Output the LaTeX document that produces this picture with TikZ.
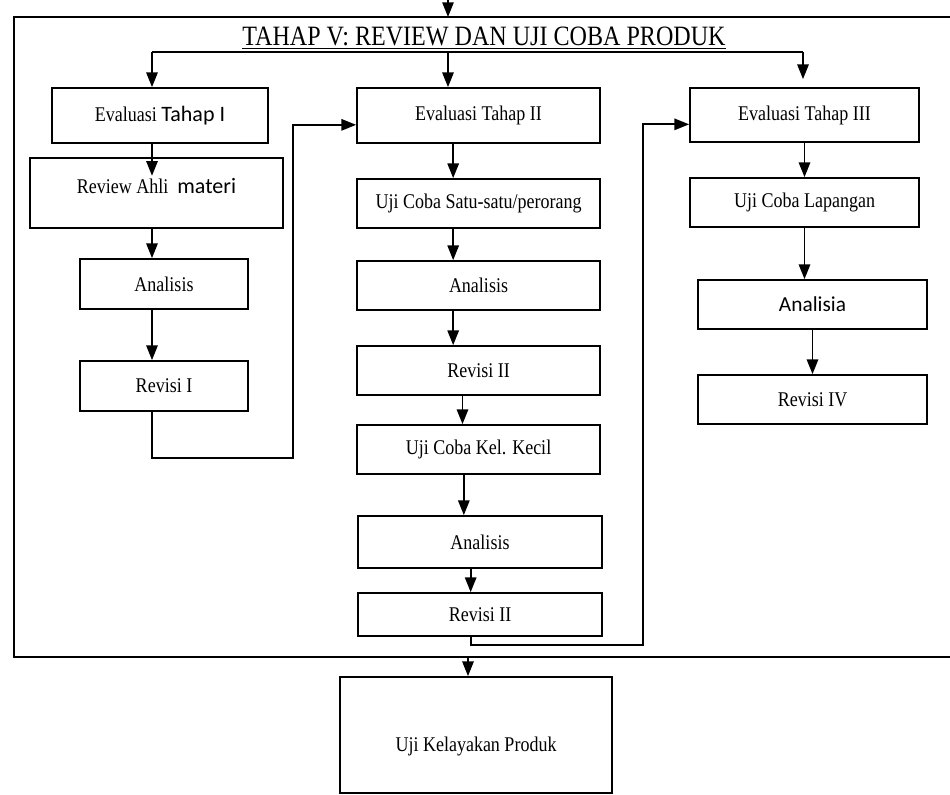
\documentclass[tikz,border=0pt]{standalone}
\usepackage{fontspec}
\setmainfont{Liberation Serif}[FakeStretch=0.86]
\newfontfamily\calib{Carlito}
\usetikzlibrary{arrows.meta}

\begin{document}
\begin{tikzpicture}[x=0.75pt,y=-0.75pt,
  box/.style={draw,line width=1.3pt,inner sep=0pt,font=\fontsize{15.7}{18}\selectfont},
  arr/.style={line width=1.3pt,-{Triangle[length=11pt,width=8.5pt]}},
  link/.style={line width=1.3pt},
  frame/.style={line width=1.8pt}]
\useasboundingbox (0,0) rectangle (950,794);
% outer frame of tahap V
\draw[frame] (950,17) -- (14,17) -- (14,657) -- (950,657);
\node[font=\fontsize{21}{24}\selectfont] (title) at (484,38) {\underline{TAHAP V: REVIEW DAN UJI COBA PRODUK}};
\coordinate (top) at (448,0);
\coordinate (d1) at (152,52);
\coordinate (d2) at (448,52);
\coordinate (d3) at (803,52);
\coordinate (l1) at (293,458);
\coordinate (r1) at (643,645);
\coordinate (fbot) at (468,657);

% kolom kiri
\node[box,minimum width=162pt,minimum height=41.25pt] (eval1) at (160,115.5) {Evaluasi {\calib\fontsize{16.5}{18}\selectfont Tahap I}};
\node[box,minimum width=189.75pt,minimum height=52.5pt,text height=10.7pt,text depth=10.3pt] (rev1) at (156.5,193) {Review Ahli \ {\calib\fontsize{16.5}{18}\selectfont materi}};
\node[box,minimum width=126pt,minimum height=37.5pt] (ana1) at (164,284) {Analisis};
\node[box,minimum width=126pt,minimum height=37.5pt] (revI) at (164,386) {Revisi I};

% kolom tengah
\node[box,minimum width=182.25pt,minimum height=41.25pt] (eval2) at (478.5,115.5) {Evaluasi Tahap II};
\node[box,minimum width=182.25pt,minimum height=36.75pt] (uji1) at (478.5,203.5) {Uji Coba Satu-satu/perorang};
\node[box,minimum width=182.25pt,minimum height=36.75pt] (ana2) at (478.5,285.5) {Analisis};
\node[box,minimum width=182.25pt,minimum height=36.75pt] (revII) at (478.5,370.5) {Revisi II};
\node[box,minimum width=182.25pt,minimum height=36.75pt] (kecil) at (478.5,449.5) {Uji Coba Kel. Kecil};
\node[box,minimum width=183pt,minimum height=39pt] (ana3) at (480,542) {Analisis};
\node[box,minimum width=183pt,minimum height=32.25pt] (revIIb) at (480,614.5) {Revisi II};

% kolom kanan
\node[box,minimum width=171.75pt,minimum height=40.5pt] (eval3) at (804.5,115) {Evaluasi Tahap III};
\node[box,minimum width=171.75pt,minimum height=36.75pt] (lapangan) at (804.5,202.5) {Uji Coba Lapangan};
\node[box,minimum width=171.75pt,minimum height=36.75pt] (analisia) at (812.5,304.5) {\calib\fontsize{16}{18}\selectfont Analisia};
\node[box,minimum width=171.75pt,minimum height=36.75pt] (revIV) at (812.5,399.5) {Revisi IV};

\node[box,minimum width=204pt,minimum height=87pt,text height=27.4pt,text depth=2pt] (kelayakan) at (476,735) {Uji Kelayakan Produk};

\draw[arr] (top) -- (top |- 0,17);
\draw[link] (d1) -- (d3);
\draw[arr] (d1) -- (d1 |- eval1.north);
\draw[arr] (d2) -- (d2 |- eval2.north);
\draw[arr,shorten >=6pt] (d3) -- (d3 |- eval3.north);

\draw[arr] (eval1.south -| d1) -- ([yshift=-14pt]rev1.north -| d1);
\draw[arr] (rev1.south -| d1) -- (ana1.north -| d1);
\draw[arr] (ana1.south -| d1) -- (revI.north -| d1);
\draw[arr] (revI.south -| d1) |- (l1) |- ([yshift=-7pt]eval2.west);

\draw[arr] ([xshift=-19pt]eval2.south) -- ([xshift=-19pt]uji1.north);
\draw[arr] ([xshift=-19pt]uji1.south) -- ([xshift=-19pt]ana2.north);
\draw[arr] ([xshift=-19pt]ana2.south) -- ([xshift=-19pt]revII.north);
\draw[arr] ([xshift=-12pt]revII.south) -- ([xshift=-12pt]kecil.north);
\draw[arr] ([xshift=-11pt]kecil.south) -- ([xshift=-11pt]kecil.south |- ana3.north);
\draw[arr] ([xshift=-7pt]ana3.south) -- ([xshift=-7pt]ana3.south |- revIIb.north);
\draw[arr] ([xshift=-7pt]revIIb.south) |- (r1) |- ([yshift=-7pt]eval3.west);

\draw[arr] (eval3) -- (lapangan);
\draw[arr] (lapangan.south) -- (lapangan.south |- analisia.north);
\draw[arr] (analisia) -- (revIV);

\draw[arr] (fbot) -- (fbot |- kelayakan.north);
\end{tikzpicture}
\end{document}
